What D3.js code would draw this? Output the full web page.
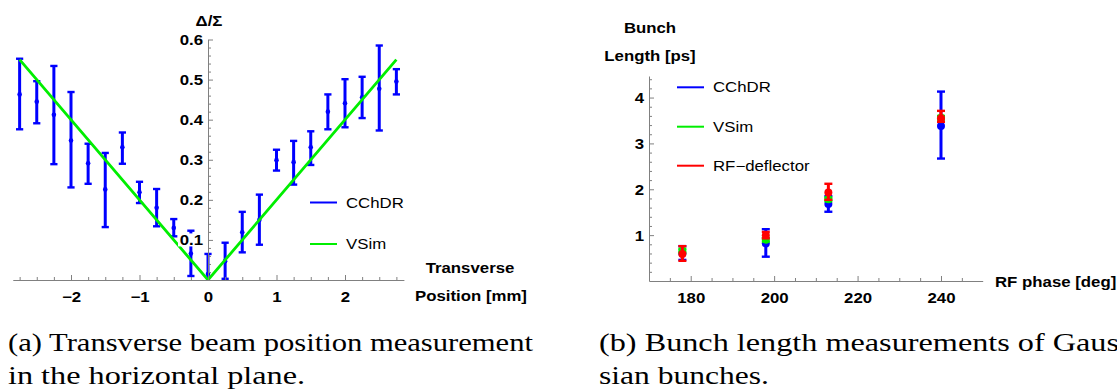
<!DOCTYPE html>
<html>
<head>
<meta charset="utf-8">
<script src="https://cdn.jsdelivr.net/npm/d3@7"></script>
<style>
  html, body { margin: 0; padding: 0; background: #fff; }
  svg { display: block; }
</style>
</head>
<body>
<svg id="fig" width="1117" height="392"></svg>
<script>
// ---------- (a) transverse position: Δ/Σ versus position ----------
const positionMm = [-2.75, -2.5, -2.25, -2.0, -1.75, -1.5, -1.25, -1.0, -0.75, -0.5, -0.25, 0,
                    0.25, 0.5, 0.75, 1.0, 1.25, 1.5, 1.75, 2.0, 2.25, 2.5, 2.75];
const cchdrRatio   = [0.463, 0.445, 0.412, 0.348, 0.291, 0.226, 0.331, 0.219, 0.180, 0.130, 0.066, 0.015,
                      0.047, 0.119, 0.150, 0.299, 0.294, 0.331, 0.420, 0.441, 0.456, 0.477, 0.495];
const cchdrRatioLo = [0.376, 0.391, 0.289, 0.231, 0.240, 0.132, 0.290, 0.192, 0.134, 0.109, 0.010, -0.035,
                      0.003, 0.069, 0.088, 0.273, 0.238, 0.287, 0.376, 0.381, 0.404, 0.373, 0.463];
const cchdrRatioHi = [0.552, 0.496, 0.534, 0.469, 0.340, 0.317, 0.368, 0.245, 0.227, 0.152, 0.123, 0.065,
                      0.093, 0.170, 0.213, 0.325, 0.347, 0.371, 0.463, 0.501, 0.507, 0.585, 0.526];
const vsimPosition = [-2.75, 0, 2.75];
const vsimRatio    = [0.55, 0, 0.55];
const ticksA_x = [-2, -1, 0, 1, 2];
const ticksA_y = [0.1, 0.2, 0.3, 0.4, 0.5, 0.6];

// ---------- (b) bunch length versus RF phase ----------
const rfPhase   = [178, 198, 213, 240];
const cchdrLen   = [0.60, 0.82, 1.68, 3.38];
const cchdrLenLo = [0.46, 0.53, 1.51, 2.67];
const cchdrLenHi = [0.76, 1.13, 1.85, 4.13];
const vsimLen    = [0.66, 0.90, 1.78, 3.56];
const vsimLenLo  = [0.62, 0.86, 1.74, 3.52];
const vsimLenHi  = [0.70, 0.94, 1.82, 3.60];
const rfdLen     = [0.59, 1.00, 1.93, 3.55];
const rfdLenLo   = [0.44, 0.93, 1.77, 3.47];
const rfdLenHi   = [0.76, 1.07, 2.12, 3.71];
const ticksB_x = [180, 200, 220, 240];
const ticksB_y = [1, 2, 3, 4];

const captionA = ["(a) Transverse beam position measurement", "in the horizontal plane."];
const captionB = ["(b) Bunch length measurements of Gaus", "sian bunches."];

const BLUE = "#0000ff", GREEN = "#00ee00", RED = "#ff0000";
const AXIS = "#808080";
const SX = 1.2; // horizontal stretch of sans labels
const SANS = "'Liberation Sans', Arial, Helvetica, sans-serif";

const svg = d3.select("#fig");

function label(g, x, y, txt, opt = {}) {
  return g.append("text")
    .attr("transform", `translate(${x},${y}) scale(${SX},1)`)
    .attr("text-anchor", opt.anchor || "start")
    .attr("font-family", SANS)
    .attr("font-weight", opt.weight || "bold")
    .attr("font-size", opt.size || 14)
    .attr("fill", "#000")
    .text(txt);
}

function fmtMinus(d) { return d < 0 ? "\u2212" + Math.abs(d) : String(d); }

function range(a, b, s) { const r = []; for (let v = a; v <= b + 1e-9; v += s) r.push(+v.toFixed(4)); return r; }

function styleAxis(g) {
  g.selectAll(".domain").attr("stroke", AXIS).attr("stroke-width", 1);
  g.selectAll(".tick line").attr("stroke", AXIS).attr("stroke-width", 1);
}

function drawAxes(g, x, y, opt) {
  const x0 = x(opt.xOrigin), y0 = y(opt.yOrigin);
  // minor ticks
  const mx = g.append("g").attr("transform", `translate(0,${y0})`)
    .call(d3.axisBottom(x).tickValues(opt.xMinor).tickSize(-3).tickSizeOuter(0).tickFormat(""));
  mx.select(".domain").remove();
  styleAxis(mx);
  const my = g.append("g").attr("transform", `translate(${x0},0)`)
    .call(d3.axisLeft(y).tickValues(opt.yMinor).tickSize(-3).tickSizeOuter(0).tickFormat(""));
  my.select(".domain").remove();
  styleAxis(my);

  // major ticks + labels
  const ax = g.append("g").attr("transform", `translate(0,${y0})`)
    .call(d3.axisBottom(x).tickValues(opt.xTicks).tickSize(-5).tickSizeOuter(0).tickFormat(fmtMinus));
  styleAxis(ax);
  ax.selectAll(".tick text")
    .attr("y", 22).attr("dy", 0)
    .attr("transform", `scale(${SX},1)`)
    .attr("font-family", SANS).attr("font-weight", "bold").attr("font-size", 14).attr("fill", "#000");

  const ay = g.append("g").attr("transform", `translate(${x0},0)`)
    .call(d3.axisLeft(y).tickValues(opt.yTicks).tickSize(-5).tickSizeOuter(0).tickFormat(d => String(d)));
  styleAxis(ay);
  ay.selectAll(".tick").each(function () {
    const t = d3.select(this);
    if (opt.labelBg) {
      t.insert("rect", "text").attr("x", -6 - 24).attr("y", -7).attr("width", 24).attr("height", 13).attr("fill", "#fff");
    }
  });
  ay.selectAll(".tick text")
    .attr("x", -5 / SX).attr("dy", "0.36em")
    .attr("transform", `scale(${SX},1)`)
    .attr("font-family", SANS).attr("font-weight", "bold").attr("font-size", 14).attr("fill", "#000");
}

function errorBars(g, x, y, xs, lo, hi, color, capHalf, w) {
  const eb = g.append("g").attr("stroke", color).attr("fill", "none");
  eb.selectAll("line.bar").data(xs).join("line").attr("class", "bar")
    .attr("x1", d => x(d)).attr("x2", d => x(d))
    .attr("y1", (d, i) => y(lo[i])).attr("y2", (d, i) => y(hi[i]))
    .attr("stroke-width", w);
  const caps = xs.flatMap((d, i) => [[d, lo[i]], [d, hi[i]]]);
  eb.selectAll("line.cap").data(caps).join("line").attr("class", "cap")
    .attr("x1", d => x(d[0]) - capHalf).attr("x2", d => x(d[0]) + capHalf)
    .attr("y1", d => y(d[1])).attr("y2", d => y(d[1]))
    .attr("stroke-width", 2.4);
}

function points(g, x, y, xs, vs, color, r) {
  g.append("g").selectAll("circle").data(xs).join("circle")
    .attr("cx", d => x(d)).attr("cy", (d, i) => y(vs[i])).attr("r", r).attr("fill", color);
}

// ================= panel (a) =================
{
  const g = svg.append("g");
  const x = d3.scaleLinear().domain([-2.85, 2.86]).range([208 - 2.85 * 68.5, 208 + 2.86 * 68.5]);
  const y = d3.scaleLinear().domain([0, 0.6]).range([280, 39.5]);

  svg.append("defs").append("clipPath").attr("id", "clipA")
    .append("rect").attr("x", 0).attr("y", 0).attr("width", 420).attr("height", y(0) + 1);

  const data = g.append("g").attr("clip-path", "url(#clipA)");
  errorBars(data, x, y, positionMm, cchdrRatioLo, cchdrRatioHi, BLUE, 3.6, 3);
  points(data, x, y, positionMm, cchdrRatio, BLUE, 2.3);

  data.append("path")
    .datum(vsimPosition.map((p, i) => [p, vsimRatio[i]]))
    .attr("d", d3.line().x(d => x(d[0])).y(d => y(d[1])))
    .attr("fill", "none").attr("stroke", GREEN).attr("stroke-width", 2.8).attr("stroke-linejoin", "miter");

  drawAxes(g, x, y, {
    xOrigin: 0, yOrigin: 0,
    xTicks: ticksA_x, yTicks: ticksA_y,
    xMinor: range(-2.75, 2.75, 0.25).filter(v => Math.abs(v - Math.round(v)) > 1e-6),
    yMinor: range(0.02, 0.58, 0.02).filter(v => Math.abs(v * 10 - Math.round(v * 10)) > 1e-6),
    labelBg: true
  });

  label(g, 209, 26, "\u0394/\u03a3", { anchor: "middle" });
  label(g, 470, 273, "Transverse", { anchor: "middle" });
  label(g, 471, 301, "Position [mm]", { anchor: "middle" });

  // legend
  const lg = g.append("g");
  [["CChDR", BLUE, 202.5], ["VSim", GREEN, 244]].forEach(([name, c, ly]) => {
    lg.append("line").attr("x1", 310).attr("x2", 337).attr("y1", ly).attr("y2", ly)
      .attr("stroke", c).attr("stroke-width", 2);
    label(lg, 346, ly + 5, name, { weight: "normal", size: 14 });
  });
}

// ================= panel (b) =================
{
  const g = svg.append("g");
  const x = d3.scaleLinear().domain([170, 250]).range([649, 982.7]);
  const y = d3.scaleLinear().domain([0, 4.47]).range([281, 76]);

  errorBars(g, x, y, rfPhase, cchdrLenLo, cchdrLenHi, BLUE, 4, 3);
  points(g, x, y, rfPhase, cchdrLen, BLUE, 4);
  errorBars(g, x, y, rfPhase, vsimLenLo, vsimLenHi, GREEN, 4, 3);
  points(g, x, y, rfPhase, vsimLen, GREEN, 4);
  errorBars(g, x, y, rfPhase, rfdLenLo, rfdLenHi, RED, 4, 3);
  points(g, x, y, rfPhase, rfdLen, RED, 4);

  drawAxes(g, x, y, {
    xOrigin: 170, yOrigin: 0,
    xTicks: ticksB_x, yTicks: ticksB_y,
    xMinor: range(175, 245, 5).filter(v => v % 20 !== 0),
    yMinor: range(0.2, 4.4, 0.2).filter(v => Math.abs(v - Math.round(v)) > 1e-6),
    labelBg: false
  });

  label(g, 650, 33, "Bunch", { anchor: "middle" });
  label(g, 650, 61, "Length [ps]", { anchor: "middle" });
  label(g, 995, 287, "RF phase [deg]");

  const lg = g.append("g");
  [["CChDR", BLUE, 87.3], ["VSim", GREEN, 126.7], ["RF\u2212deflector", RED, 165.7]].forEach(([name, c, ly]) => {
    lg.append("line").attr("x1", 677).attr("x2", 704).attr("y1", ly).attr("y2", ly)
      .attr("stroke", c).attr("stroke-width", 2);
    label(lg, 713, ly + 5, name, { weight: "normal", size: 14 });
  });
}

// ================= captions =================
function caption(x, lines, lens) {
  lines.forEach((t, i) => {
    svg.append("text")
      .attr("x", x).attr("y", 351 + i * 33)
      .attr("font-family", "'Liberation Serif', 'DejaVu Serif', serif")
      .attr("font-size", 25).attr("fill", "#000")
      .attr("textLength", lens[i]).attr("lengthAdjust", "spacingAndGlyphs")
      .text(t);
  });
}
caption(8, captionA, [525, 297]);
caption(599, captionB, [520, 170]);
</script>
</body>
</html>
